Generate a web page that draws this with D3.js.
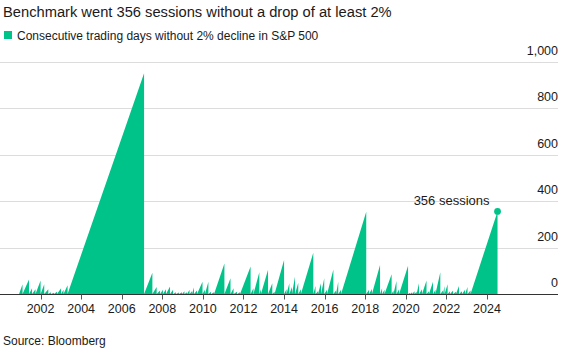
<!DOCTYPE html>
<html>
<head>
<meta charset="utf-8">
<script src="https://cdn.jsdelivr.net/npm/d3@7"></script>
<style>
  body { margin: 0; background: #fff; }
  text { font-family: "Liberation Sans", Arial, sans-serif; fill: #1a1a1a; }
</style>
</head>
<body>
<svg id="chart" width="574" height="362"></svg>
<script>
// streak start, then the date (decimal year) of each 2% drop and the streak length reached there
const runStart = 2000.94;
const dropYears = [
  2001.11, 2001.43, 2001.58, 2001.75, 2002.00, 2002.18, 2002.38, 2002.51, 2002.66, 2002.81,
  2003.01, 2003.13, 2003.33, 2007.10, 2007.51, 2007.72, 2007.89, 2008.03, 2008.18, 2008.38,
  2008.53, 2008.67, 2008.82, 2008.97, 2009.09, 2009.22, 2009.34, 2009.46, 2009.56, 2009.71,
  2009.98, 2010.10, 2010.27, 2010.40, 2010.55, 2011.06, 2011.36, 2011.51, 2011.68, 2011.83,
  2012.35, 2012.49, 2012.78, 2012.86, 2013.21, 2013.42, 2013.53, 2014.00, 2014.12, 2014.26,
  2014.39, 2014.54, 2014.70, 2014.83, 2015.44, 2015.55, 2015.67, 2015.82, 2015.98, 2016.12,
  2016.43, 2016.56, 2016.67, 2016.81, 2018.05, 2018.19, 2018.33, 2018.73, 2018.83, 2018.95,
  2019.30, 2019.39, 2019.54, 2019.67, 2020.11, 2020.21, 2020.31, 2020.43, 2020.53, 2020.65,
  2020.80, 2021.02, 2021.14, 2021.34, 2021.46, 2021.70, 2021.83, 2021.91, 2022.06, 2022.18,
  2022.33, 2022.47, 2022.62, 2022.77, 2022.92, 2023.04, 2023.19
];
const peakValues = [
  42, 63, 25, 20, 58, 42, 20, 8, 5, 10,
  25, 18, 38, 952, 92, 30, 15, 18, 20, 32,
  18, 8, 6, 8, 12, 8, 18, 12, 28, 15,
  53, 18, 53, 10, 8, 132, 68, 25, 10, 8,
  118, 25, 94, 20, 104, 46, 10, 147, 20, 46,
  30, 75, 49, 20, 178, 34, 12, 46, 68, 18,
  106, 15, 53, 18, 354, 18, 22, 125, 25, 18,
  85, 15, 56, 20, 122, 5, 8, 12, 10, 46,
  20, 58, 12, 53, 18, 94, 15, 35, 42, 12,
  15, 10, 34, 12, 18, 30, 15
];
const latestYear = 2024.52;
const latestValue = 356;

const xTicks = [2002, 2004, 2006, 2008, 2010, 2012, 2014, 2016, 2018, 2020, 2022, 2024];
const yTicks = [0, 200, 400, 600, 800, 1000];

const svg = d3.select("#chart");
const green = "#00c389";

const x = d3.scaleLinear().domain([2000, 2027.5]).range([0, 558]);
const y = d3.scaleLinear().domain([0, 1000]).range([294, 62]);

// sawtooth vertices: rise to the peak, then reset to zero
let pts = [[runStart, 0]];
for (let i = 0; i < dropYears.length; i++) {
  pts.push([dropYears[i], peakValues[i]]);
  pts.push([dropYears[i], 0]);
}
pts.push([latestYear, latestValue]);
pts.push([latestYear, 0]);

// title + legend
svg.append("text").attr("x", 3).attr("y", 17)
  .style("font-size", "14.7px").text("Benchmark went 356 sessions without a drop of at least 2%");
svg.append("rect").attr("x", 4).attr("y", 31).attr("width", 8).attr("height", 8).attr("fill", green);
svg.append("text").attr("x", 17).attr("y", 39.5)
  .style("font-size", "12px").text("Consecutive trading days without 2% decline in S&P 500");

// grid + y labels
const grid = svg.append("g");
grid.selectAll("line").data(yTicks.filter(d => d > 0)).enter().append("line")
  .attr("x1", 0).attr("x2", 558)
  .attr("y1", d => Math.round(y(d)) + 0.5).attr("y2", d => Math.round(y(d)) + 0.5)
  .attr("stroke", "#dcdcdc").attr("stroke-width", 1);
grid.selectAll("text").data(yTicks).enter().append("text")
  .attr("x", 558).attr("y", d => y(d) - 7)
  .attr("text-anchor", "end").style("font-size", "12.5px")
  .text(d => d3.format(",")(d));

// area
const area = d3.area().x(d => x(d[0])).y0(y(0)).y1(d => y(d[1]));
svg.append("path").datum(pts).attr("d", area).attr("fill", green);

// x axis
const xAxis = svg.append("g").attr("transform", "translate(0," + Math.round(y(0)) + ".5)");
xAxis.append("line").attr("x1", 0).attr("x2", 558).attr("stroke", "#333");
xAxis.selectAll("line.tick").data(xTicks).enter().append("line")
  .attr("class", "tick")
  .attr("x1", d => Math.round(x(d)) + 0.5).attr("x2", d => Math.round(x(d)) + 0.5)
  .attr("y1", 0).attr("y2", 5).attr("stroke", "#555");
xAxis.selectAll("text").data(xTicks).enter().append("text")
  .attr("x", d => x(d)).attr("y", 18)
  .attr("text-anchor", "middle").style("font-size", "12.5px")
  .text(d => d);

// latest point + annotation
svg.append("circle").attr("cx", x(latestYear)).attr("cy", y(latestValue)).attr("r", 3.4).attr("fill", green);
svg.append("text").attr("x", x(latestYear) - 8).attr("y", y(latestValue) - 6)
  .attr("text-anchor", "end").style("font-size", "13px").text("356 sessions");

svg.append("text").attr("x", 3).attr("y", 345)
  .style("font-size", "12px").text("Source: Bloomberg");
</script>
</body>
</html>
